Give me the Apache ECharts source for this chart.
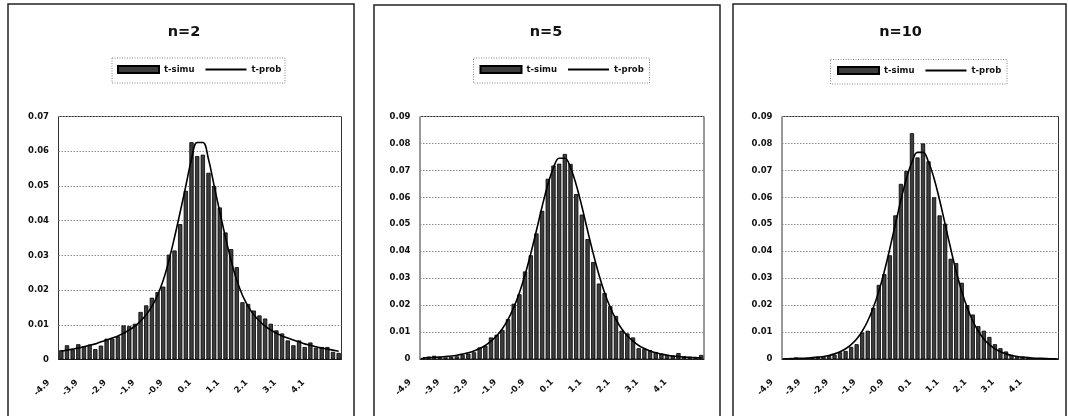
<!DOCTYPE html>
<html>
<head>
<meta charset="utf-8">
<script src="https://cdn.jsdelivr.net/npm/echarts@6/dist/echarts.min.js"></script>
<style>
html, body { margin: 0; padding: 0; background: #fff; }
#chart { width: 1068px; height: 416px; }
</style>
</head>
<body>
<div id="chart"></div>
<script>
// Bin centres of the histograms (width 0.2)
const categories = ['-4.9','-4.7','-4.5','-4.3','-4.1','-3.9','-3.7','-3.5','-3.3','-3.1',
  '-2.9','-2.7','-2.5','-2.3','-2.1','-1.9','-1.7','-1.5','-1.3','-1.1',
  '-0.9','-0.7','-0.5','-0.3','-0.1','0.1','0.3','0.5','0.7','0.9',
  '1.1','1.3','1.5','1.7','1.9','2.1','2.3','2.5','2.7','2.9',
  '3.1','3.3','3.5','3.7','3.9','4.1','4.3','4.5','4.7','4.9'];

// Category labels printed on the x axis
const xTickLabels = ['-4.9','-3.9','-2.9','-1.9','-0.9','0.1','1.1','2.1','3.1','4.1'];

const panelTitles = ['n=2', 'n=5', 'n=10'];
const yMax = [0.07, 0.09, 0.09];

// Simulated relative frequencies (t-simu)
const simuN2 = [0.0027,0.0041,0.0029,0.0044,0.0038,0.0043,0.0030,0.0040,0.0060,0.0060,
  0.0067,0.0098,0.0096,0.0103,0.0137,0.0156,0.0178,0.0194,0.0210,0.0302,
  0.0314,0.0390,0.0486,0.0626,0.0586,0.0590,0.0538,0.0500,0.0438,0.0366,
  0.0318,0.0266,0.0165,0.0160,0.0141,0.0127,0.0118,0.0103,0.0084,0.0075,
  0.0055,0.0041,0.0055,0.0036,0.0049,0.0034,0.0036,0.0036,0.0022,0.0019];
const simuN5 = [0.0004,0.0009,0.0012,0.0008,0.0006,0.0008,0.0010,0.0015,0.0020,0.0025,
  0.0043,0.0049,0.0080,0.0090,0.0108,0.0148,0.0205,0.0240,0.0325,0.0385,
  0.0466,0.0550,0.0669,0.0718,0.0725,0.0761,0.0724,0.0612,0.0536,0.0445,
  0.0360,0.0280,0.0245,0.0196,0.0160,0.0105,0.0095,0.0080,0.0040,0.0037,
  0.0033,0.0026,0.0020,0.0016,0.0013,0.0022,0.0010,0.0008,0.0007,0.0015];
const simuN10 = [0.0002,0.0004,0.0006,0.0003,0.0005,0.0006,0.0008,0.0010,0.0012,0.0016,
  0.0025,0.0030,0.0045,0.0055,0.0098,0.0105,0.0190,0.0275,0.0315,0.0385,
  0.0533,0.0650,0.0698,0.0838,0.0748,0.0800,0.0734,0.0600,0.0533,0.0502,
  0.0372,0.0356,0.0283,0.0200,0.0165,0.0122,0.0105,0.0082,0.0055,0.0040,
  0.0028,0.0016,0.0011,0.0008,0.0006,0.0004,0.0003,0.0002,0.0002,0.0001];

// Theoretical t density per bin (t-prob)
const probN2 = [0.0024,0.0027,0.0030,0.0033,0.0037,0.0041,0.0045,0.0051,0.0056,0.0062,
  0.0068,0.0076,0.0085,0.0096,0.0111,0.0129,0.0153,0.0185,0.0228,0.0285,
  0.0352,0.0425,0.0500,0.0577,0.0625,0.0625,0.0577,0.0500,0.0425,0.0352,
  0.0285,0.0228,0.0185,0.0153,0.0129,0.0111,0.0096,0.0085,0.0076,0.0068,
  0.0062,0.0056,0.0051,0.0045,0.0041,0.0037,0.0033,0.0030,0.0027,0.0024];
const probN5 = [0.0004,0.0005,0.0006,0.0007,0.0009,0.0011,0.0014,0.0018,0.0023,0.0030,
  0.0039,0.0050,0.0066,0.0086,0.0112,0.0147,0.0191,0.0246,0.0313,0.0391,
  0.0477,0.0566,0.0647,0.0710,0.0745,0.0745,0.0710,0.0647,0.0566,0.0477,
  0.0391,0.0313,0.0246,0.0191,0.0147,0.0112,0.0086,0.0066,0.0050,0.0039,
  0.0030,0.0023,0.0018,0.0014,0.0011,0.0009,0.0007,0.0006,0.0005,0.0004];
const probN10 = [0.0001,0.0001,0.0002,0.0003,0.0003,0.0005,0.0007,0.0009,0.0013,0.0019,
  0.0027,0.0038,0.0053,0.0074,0.0103,0.0141,0.0190,0.0251,0.0325,0.0410,
  0.0500,0.0590,0.0670,0.0731,0.0767,0.0767,0.0731,0.0670,0.0590,0.0500,
  0.0410,0.0325,0.0251,0.0190,0.0141,0.0103,0.0074,0.0053,0.0038,0.0027,
  0.0019,0.0013,0.0009,0.0007,0.0005,0.0003,0.0003,0.0002,0.0001,0.0001];

const simuSets = [simuN2, simuN5, simuN10];
const probSets = [probN2, probN5, probN10];

// Page layout of the three panels
const layout = [
  { frame: [8, 4, 346], titleX: 184, legendBox: [112, 58, 173, 25], legendLeft: 117, legendTop: 65,
    grid: { left: 58.5, top: 116.5, width: 283, height: 243 } },
  { frame: [374, 5, 346], titleX: 546, legendBox: [473.5, 58, 176, 25], legendLeft: 479.5, legendTop: 65,
    grid: { left: 420, top: 116.5, width: 284, height: 242.5 } },
  { frame: [733, 4, 333], titleX: 900.5, legendBox: [830.5, 59.5, 176.5, 24.5], legendLeft: 837, legendTop: 66,
    grid: { left: 782, top: 116.5, width: 276.5, height: 242.5 } }
];

const FONT = 'DejaVu Sans';
const labelStyle = { fontSize: 8.5, fontWeight: 'bold', fontFamily: FONT, color: '#111' };

const option = {
  animation: false,
  backgroundColor: '#fff',
  title: layout.map((p, k) => ({
    text: panelTitles[k], left: p.titleX, top: 25, textAlign: 'center', padding: 0,
    textStyle: { fontSize: 14.5, fontWeight: 'bold', fontFamily: FONT, color: '#111' }
  })),
  legend: layout.map(p => ({
    left: p.legendLeft, top: p.legendTop, padding: 0, orient: 'horizontal',
    itemWidth: 41, itemHeight: 7, itemGap: 10, selectedMode: false,
    data: [
      { name: 't-simu', icon: 'rect' },
      { name: 't-prob', itemStyle: { opacity: 0 } }
    ],
    textStyle: labelStyle
  })),
  grid: layout.map(p => Object.assign({ show: true, borderColor: '#333', borderWidth: 1, containLabel: false }, p.grid)),
  xAxis: layout.map((p, k) => ({
    type: 'category', gridIndex: k, data: categories, boundaryGap: true,
    axisLine: { show: true, lineStyle: { color: '#222', width: 1 } },
    axisTick: { show: false },
    splitLine: { show: false },
    axisLabel: Object.assign({
      interval: (i, v) => xTickLabels.includes(v),
      rotate: 45, margin: 9, padding: [0, 18, 0, 0]
    }, labelStyle)
  })),
  yAxis: layout.map((p, k) => ({
    type: 'value', gridIndex: k, min: 0, max: yMax[k], interval: 0.01,
    axisLine: { show: false }, axisTick: { show: false },
    axisLabel: Object.assign({
      margin: 9.5,
      formatter: v => (Math.abs(v) < 1e-9 ? '0' : v.toFixed(2))
    }, labelStyle),
    splitLine: { show: true, lineStyle: { color: '#8a8a8a', width: 1, type: [1.5, 1.5] } }
  })),
  series: [].concat(...layout.map((p, k) => [
    {
      type: 'bar', name: 't-simu', xAxisIndex: k, yAxisIndex: k, data: simuSets[k],
      barCategoryGap: '24%',
      itemStyle: { color: '#3d3d3d', borderColor: '#000', borderWidth: 0.8 }
    },
    {
      type: 'line', name: 't-prob', xAxisIndex: k, yAxisIndex: k, data: probSets[k],
      smooth: 0.4, symbol: 'none', showSymbol: false, z: 3,
      lineStyle: { color: '#000', width: 1.6 },
      itemStyle: { color: '#000' }
    }
  ])),
  graphic: [].concat(...layout.map(p => [
    {
      type: 'rect', silent: true, z: 0,
      shape: { x: p.frame[0], y: p.frame[1], width: p.frame[2], height: 430 },
      style: { fill: 'none', stroke: '#222', lineWidth: 1.5 }
    },
    {
      type: 'rect', silent: true, z: 0,
      shape: { x: p.legendBox[0], y: p.legendBox[1], width: p.legendBox[2], height: p.legendBox[3] },
      style: { fill: 'none', stroke: '#888', lineWidth: 1, lineDash: [1, 1.5] }
    }
  ]))
};

const chart = echarts.init(document.getElementById('chart'), null, { renderer: 'canvas' });
chart.setOption(option);
</script>
</body>
</html>
